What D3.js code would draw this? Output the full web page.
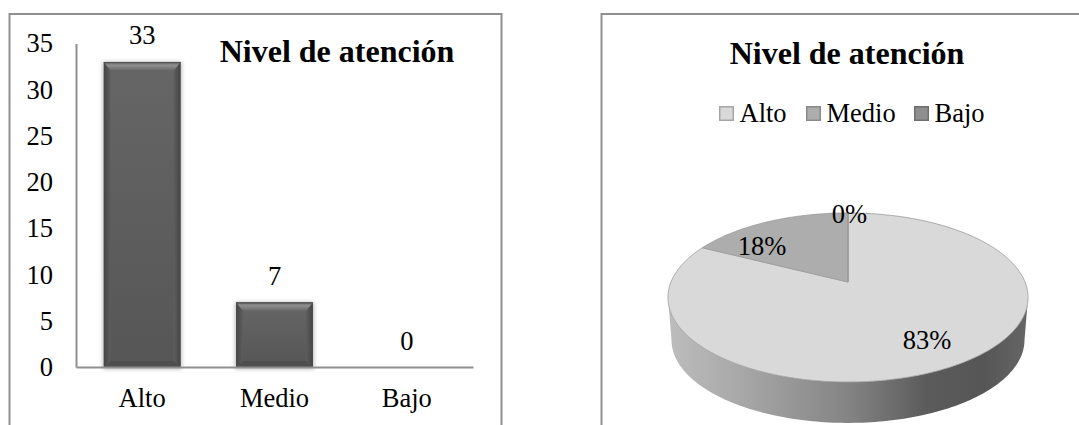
<!DOCTYPE html>
<html>
<head>
<meta charset="utf-8">
<script src="https://cdn.jsdelivr.net/npm/d3@7/dist/d3.min.js"></script>
<style>
  html, body { margin: 0; padding: 0; background: #fff; }
  svg { display: block; }
  text { font-family: "Liberation Serif", "Times New Roman", serif; fill: #000; }
</style>
</head>
<body>
<svg id="chart" width="1079" height="425"></svg>
<script>
const chartTitle = "Nivel de atención";
const categories = ["Alto", "Medio", "Bajo"];
const counts = [33, 7, 0];
const percentLabels = ["83%", "18%", "0%"];
const countTicks = [0, 5, 10, 15, 20, 25, 30, 35];
const sliceColors = ["#d9d9d9", "#adadad", "#8f8f8f"];
const swatchStrokes = ["#a6a6a6", "#8a8a8a", "#6e6e6e"];
const labelSize = 26.5;
const titleSize = 32;

const svg = d3.select("#chart");
const defs = svg.append("defs");

// Panel outlines: open at the bottom, the right panel also runs off the page
const frameLine = d3.line();
[[[9.5, 425], [9.5, 14], [501.5, 14], [501.5, 425]],
 [[601.5, 425], [601.5, 14], [1079, 14]]].forEach(p =>
  svg.append("path").attr("d", frameLine(p)).attr("fill", "none")
     .attr("stroke", "#8f8f8f").attr("stroke-width", 2));

/* ---------- Column chart ---------- */
const x = d3.scaleBand().domain(categories).range([76, 473]).paddingInner(0.42).paddingOuter(0.21);
const y = d3.scaleLinear().domain([0, 35]).range([367, 43.5]);

const bevelBody = defs.append("linearGradient").attr("id", "barBody")
  .attr("x1", 0).attr("x2", 0).attr("y1", 0).attr("y2", 1);
bevelBody.append("stop").attr("offset", 0).attr("stop-color", "#666666");
bevelBody.append("stop").attr("offset", 1).attr("stop-color", "#565656");

const topBevel = defs.append("linearGradient").attr("id", "barTop")
  .attr("x1", 0).attr("x2", 0).attr("y1", 0).attr("y2", 1);
topBevel.append("stop").attr("offset", 0).attr("stop-color", "#6e6e6e");
topBevel.append("stop").attr("offset", 0.4).attr("stop-color", "#8e8e8e");
topBevel.append("stop").attr("offset", 1).attr("stop-color", "#636363");

const sideShade = defs.append("linearGradient").attr("id", "barSide")
  .attr("x1", 0).attr("x2", 1).attr("y1", 0).attr("y2", 0);
sideShade.append("stop").attr("offset", 0).attr("stop-color", "#454545");
sideShade.append("stop").attr("offset", 1).attr("stop-color", "#5e5e5e");

const sideShadeRight = defs.append("linearGradient").attr("id", "barSideRight")
  .attr("x1", 1).attr("x2", 0).attr("y1", 0).attr("y2", 0);
sideShadeRight.append("stop").attr("offset", 0).attr("stop-color", "#454545");
sideShadeRight.append("stop").attr("offset", 1).attr("stop-color", "#5e5e5e");

const softShadow = defs.append("filter").attr("id", "barShadow")
  .attr("x", "-15%").attr("y", "-15%").attr("width", "130%").attr("height", "130%");
softShadow.append("feGaussianBlur").attr("stdDeviation", 2);

const bars = svg.append("g").selectAll("g")
  .data(categories.map((c, i) => ({ c, v: counts[i] })).filter(d => d.v > 0))
  .join("g");

bars.each(function (d) {
  const g = d3.select(this);
  const x0 = x(d.c), x1 = x0 + x.bandwidth();
  const y0 = y(d.v), y1 = y(0);
  const b = 9, s = 7;
  const w = x1 - x0, h = y1 - y0;
  const poly = pts => frameLine(pts) + "Z";
  g.append("rect").attr("x", x0 - 1).attr("y", y0).attr("width", w + 2).attr("height", h + 2)
    .attr("fill", "#000").attr("opacity", 0.28).attr("filter", "url(#barShadow)");
  g.append("rect").attr("x", x0).attr("y", y0).attr("width", w).attr("height", h)
    .attr("fill", "url(#barBody)");
  g.append("path").attr("d", poly([[x0, y1], [x0 + s, y1 - 6], [x1 - s, y1 - 6], [x1, y1]]))
    .attr("fill", "#4e4e4e");
  g.append("path").attr("d", poly([[x0, y0], [x0 + s, y0 + b], [x0 + s, y1 - 6], [x0, y1]]))
    .attr("fill", "url(#barSide)");
  g.append("path").attr("d", poly([[x1, y0], [x1 - s, y0 + b], [x1 - s, y1 - 6], [x1, y1]]))
    .attr("fill", "url(#barSideRight)");
  g.append("path").attr("d", poly([[x0, y0], [x1, y0], [x1 - s, y0 + b], [x0 + s, y0 + b]]))
    .attr("fill", "url(#barTop)");
  g.append("rect").attr("x", x0).attr("y", y0).attr("width", w).attr("height", 1.2).attr("fill", "#4f4f4f");
});

// Axis lines and tick labels
const yAxis = svg.append("g").attr("transform", "translate(76,0)")
  .call(d3.axisLeft(y).tickValues(countTicks).tickSize(0).tickPadding(23));
yAxis.select(".domain").attr("stroke", "#8f8f8f").attr("stroke-width", 2);
yAxis.selectAll("text").attr("font-size", labelSize).attr("font-family", "Liberation Serif");

const xAxis = svg.append("g").attr("transform", "translate(0,367)")
  .call(d3.axisBottom(x).tickSize(0).tickPadding(21));
xAxis.select(".domain").attr("stroke", "#8f8f8f").attr("stroke-width", 2);
xAxis.selectAll("text").attr("font-size", labelSize).attr("font-family", "Liberation Serif");

// Count labels above each column
svg.append("g").selectAll("text")
  .data(categories.map((c, i) => ({ c, v: counts[i] })))
  .join("text")
  .attr("x", d => x(d.c) + x.bandwidth() / 2)
  .attr("y", d => y(d.v) - 17.5)
  .attr("text-anchor", "middle")
  .attr("font-size", labelSize)
  .text(d => d.v);

svg.append("text").attr("x", 337).attr("y", 62).attr("text-anchor", "middle")
  .attr("font-size", titleSize).attr("font-weight", "bold").text(chartTitle);

/* ---------- Tilted pie chart ---------- */
svg.append("text").attr("x", 847).attr("y", 64).attr("text-anchor", "middle")
  .attr("font-size", titleSize).attr("font-weight", "bold").text(chartTitle);

// Legend
const legendX = [719, 806, 914];
const legend = svg.append("g").selectAll("g").data(categories).join("g");
legend.append("rect").attr("x", (d, i) => legendX[i] + 0.75).attr("y", 106.75)
  .attr("width", 13.5).attr("height", 13.5)
  .attr("fill", (d, i) => sliceColors[i]).attr("stroke", (d, i) => swatchStrokes[i]).attr("stroke-width", 1.5);
legend.append("text").attr("x", (d, i) => legendX[i] + 20.5).attr("y", 122)
  .attr("font-size", labelSize).text(d => d);

// Perspective projection of the unit disc: far edge shrinks, near edge grows.
// u is across the disc, v runs from the near edge (-1) to the far edge (+1).
const tilt = 0.183;
const project = (theta, radius, cx, cy, sx, sy) => {
  const u = Math.sin(theta) * radius, v = Math.cos(theta) * radius;
  const w = 1 + tilt * v;
  return [cx + sx * u / w, cy - sy * v / w];
};
const topFace = (t, r = 1) => project(t, r, 848, 282, 177, 81.7);
const lowerFace = t => project(t, 1, 848, 325, 173.5, 80);

const samples = (a0, a1) => {
  const n = Math.max(2, Math.ceil(Math.abs(a1 - a0) / 0.02));
  return d3.range(n + 1).map(i => a0 + (a1 - a0) * i / n);
};
const pieLine = d3.line();

const sideFill = defs.append("linearGradient").attr("id", "pieSide")
  .attr("gradientUnits", "userSpaceOnUse")
  .attr("x1", 668).attr("x2", 1028).attr("y1", 0).attr("y2", 0);
[[0, "#bdbdbd"], [0.2, "#a8a8a8"], [0.5, "#848484"], [0.72, "#5b5b5b"], [0.88, "#565656"], [1, "#666666"]]
  .forEach(([o, c]) => sideFill.append("stop").attr("offset", o).attr("stop-color", c));

// Rim wall: visible part runs between the two silhouette points of the disc
const rimRight = Math.acos(-tilt), rimLeft = 2 * Math.PI - rimRight;
const wall = samples(rimRight, rimLeft).map(t => topFace(t))
  .concat(samples(rimLeft, rimRight).map(t => lowerFace(t)));
svg.append("path").attr("d", pieLine(wall) + "Z").attr("fill", "url(#pieSide)");

const slices = d3.pie().sort(null)(counts);
svg.append("g").selectAll("path").data(slices).join("path")
  .attr("d", d => {
    const rim = samples(d.startAngle, d.endAngle).map(t => topFace(t));
    return pieLine([[848, 282], ...rim]) + "Z";
  })
  .attr("fill", (d, i) => sliceColors[i])
  .attr("stroke", "#9a9a9a").attr("stroke-width", 0.8);

// Percentage labels
const labelPos = [[927, 349], [762, 255], [849.5, 223]];
svg.append("g").selectAll("text").data(percentLabels).join("text")
  .attr("x", (d, i) => labelPos[i][0]).attr("y", (d, i) => labelPos[i][1])
  .attr("text-anchor", "middle").attr("font-size", labelSize).text(d => d);
</script>
</body>
</html>
